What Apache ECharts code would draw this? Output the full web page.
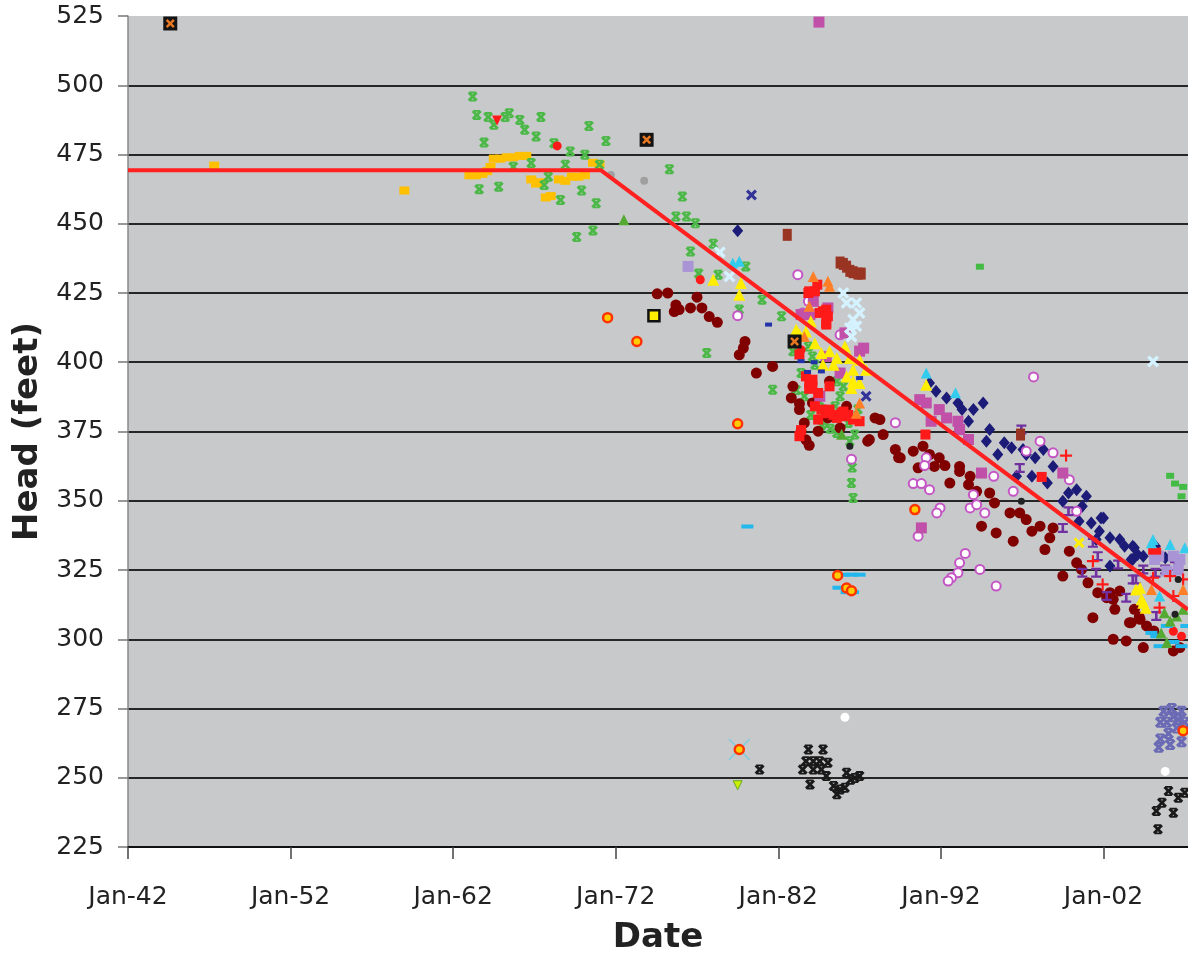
<!DOCTYPE html>
<html><head><meta charset="utf-8">
<script src="https://cdn.jsdelivr.net/npm/echarts@6/dist/echarts.min.js"></script>
<style>html,body{margin:0;padding:0;background:#fff;overflow:hidden}#c{width:1188px;height:958px}</style>
</head><body><div id="c"></div>
<script>
// ---- data: [decimal year, head (feet)] ----
const xTickYears = [1942, 1952, 1962, 1972, 1982, 1992, 2002];
const yTicks = [225, 250, 275, 300, 325, 350, 375, 400, 425, 450, 475, 500, 525];
const trendLine = [[1942, 469.3], [1971.1, 469.3], [2007.2, 310.7]];

const goldSq = [[1947.3,471],[1959.0,462],[1963.0,467.5],[1963.4,467.5],[1963.8,468],[1964.1,469],[1964.3,470.5],[1964.5,473.5],[1964.9,473.5],[1965.3,474],[1965.7,474],[1966.1,474.5],[1966.5,474.5],[1966.8,466],[1967.1,464.5],[1967.4,465],[1967.7,459.5],[1968.0,460],[1968.5,466],[1968.9,465.5],[1969.3,467],[1969.7,467],[1970.1,467.5],[1970.6,472],[1971.0,471.5]];
const greenX = [[1963.2,495.9],[1963.45,489.3],[1964.15,488.5],[1964.5,485.7],[1965.2,488.5],[1965.45,489.9],[1966.1,487.5],[1966.4,483.9],[1967.1,481.5],[1967.4,488.5],[1963.9,479.3],[1968.2,479.1],[1969.2,476.1],[1970.1,474.9],[1970.35,485.3],[1971.4,479.9],[1966.8,471.9],[1968.9,471.3],[1963.6,462.5],[1964.8,463.4],[1965.7,470.6],[1967.6,464],[1968.6,458.6],[1969.9,462],[1970.8,457.4],[1969.6,445.2],[1970.6,447.6],[1971.0,471.3],[1967.85,467],[1975.3,469.7],[1976.1,459.8],[1975.7,452.6],[1976.35,452.6],[1976.9,450.2],[1978.0,442.8],[1976.6,440],[1977.1,432],[1980.0,434.6],[1978.3,431.6],[1977.6,403.3],[1981.65,390.1],[1979.6,419],[1981.0,422.6],[1982.2,416.6],[1982.9,404],[1983.4,396.1],[1983.1,390],[1983.6,387.7],[1984.55,385.8],[1984.85,378.1],[1984.65,377.2],[1985.5,384.1],[1985.8,387.7],[1986.3,378.1],[1985.6,374.5],[1986.4,371.5],[1986.7,373.9],[1986.0,391.3],[1984.25,399.1],[1983.85,405.7],[1984.1,402.1],[1985.6,393.1],[1986.5,356.4],[1986.6,351],[1986.55,362],[1985.2,376],[1984.0,381],[1986.9,383]];
const redSq = [[1983.85,425],[1984.25,425.6],[1984.75,418.4],[1985.05,416.6],[1984.95,413.6],[1983.9,425.6],[1984.55,417.8],[1984.95,419],[1983.3,402.8],[1983.9,392.5],[1984.1,391.3],[1984.45,388.9],[1984.65,382.9],[1985.15,382.9],[1985.9,381.6],[1986.1,380.5],[1986.6,379.3],[1987.0,378.7],[1983.3,373.3],[1983.7,394.9],[1984.25,384.1],[1985.6,379.9],[1984.45,379.3],[1983.9,390.4],[1984.95,381.6],[1986.0,382.2],[1985.15,391.3],[1984.1,393.7],[1984.95,414.2],[1983.4,375.5],[1985.4,381],[1986.3,381],[1991.05,373.9],[1998.2,358.6],[1984.4,428]];
const redRect = [[2005.15,331.8]];
const redCircle = [[1968.4,478.1],[1977.2,429.8],[2006.3,302.9],[2006.8,301.1],[1983.4,404.5]];
const redTriDown = [[1964.7,487.3]];
const redPlus = [[1999.7,366.3],[2006.1,322.8],[2006.9,321.6],[2005.45,311.4],[2006.3,315.6],[2005.05,322.2],[2001.95,319.8],[2001.35,328.2]];
const maroon = [[1974.55,424.7],[1975.2,425],[1975.7,420.7],[1975.9,419],[1976.6,419.6],[1977.0,423.5],[1977.3,419.6],[1977.75,416.5],[1978.25,414.4],[1975.6,418.3],[1979.95,407.5],[1979.85,405.1],[1979.6,402.7],[1980.65,396.1],[1981.65,398.5],[1982.9,391.3],[1982.8,387.1],[1983.3,382.9],[1983.6,378.1],[1983.4,375.1],[1984.1,385.3],[1985.15,393.1],[1985.05,379.9],[1984.45,375.1],[1986.2,384.1],[1985.8,376.3],[1987.95,379.9],[1987.5,371.5],[1988.45,373.9],[1988.25,379.3],[1989.2,368.5],[1989.5,365.5],[1990.3,367.9],[1990.9,369.7],[1991.3,366.7],[1991.9,365.5],[1990.6,361.9],[1991.6,362.4],[1992.25,362.7],[1992.55,356.4],[1993.15,362.4],[1993.15,360.6],[1993.8,358.8],[1993.7,355.8],[1994.2,353.4],[1994.5,340.8],[1995.3,349.2],[1995.0,352.8],[1995.4,338.4],[1996.25,345.6],[1996.45,335.4],[1996.85,345.6],[1997.25,343.2],[1997.6,339],[1998.1,340.8],[1998.4,332.4],[1998.7,336.6],[1998.9,340.2],[1999.5,322.8],[1999.9,331.8],[2000.35,327.6],[2000.65,325.2],[2001.05,320.4],[2001.65,316.8],[2001.35,307.8],[2002.4,316.8],[2002.6,314.4],[2002.6,300],[2003.4,299.4],[2003.6,306],[2003.9,310.8],[2004.25,307.2],[2004.45,297],[2004.65,304.8],[2006.3,295.8],[2002.2,315],[2002.7,310.8],[2003.0,317.4],[2003.7,306],[2004.2,308],[2005.1,303],[2006.7,297],[1983.3,385],[1983.9,370],[1983.7,372],[1987.6,372.1],[1989.4,365.6]];
const navyDiamond = [[1979.5,447.5],[1991.3,392.5],[1991.7,389.5],[1992.35,387.1],[1993.05,385.3],[1993.3,382.9],[1994.0,382.9],[1993.7,378.7],[1994.6,385.3],[1995.0,375.7],[1994.8,371.5],[1995.9,370.9],[1996.35,369.1],[1995.5,366.7],[1997.05,368.5],[1997.25,366.7],[1997.8,365.5],[1998.3,368.5],[1996.65,358.8],[1997.6,358.8],[1998.55,356.4],[1998.9,362.4],[1999.85,352.8],[2000.35,354],[2000.95,351.6],[1999.5,349.8],[2000.7,348],[2000.5,342.6],[2001.25,342],[2001.85,343.8],[2001.75,339],[2002.4,336.6],[2003.0,336],[2003.3,333.6],[2003.9,333],[2004.1,330.6],[2003.8,328.8],[2004.45,330],[2002.4,326.4],[2001.55,336],[2002.0,343.8],[2003.8,333.6],[2003.7,328.8],[2005.2,333.6],[2005.8,329.4]];
const magentaSq = [[1984.5,522.8],[1991.1,385.3],[1991.9,382.9],[1992.35,379.9],[1993.05,378.7],[1993.15,375.7],[1993.7,372.1],[1991.4,378.7],[1994.5,360],[1999.5,360],[1990.7,386.5],[1984.15,422],[1983.95,417.2],[1983.4,417.2],[1985.05,419.6],[1986.1,410.6],[1987.0,404],[1987.25,405.1],[1985.8,396.1],[1984.95,402.1],[1984.55,387.7],[1990.8,340.2]];
const orchidRing = [[1989.2,378.2],[1990.3,356.2],[1990.8,356.2],[1991.3,354],[1991.1,365.5],[1991.0,362.7],[1991.95,347.4],[1991.75,345.6],[1990.6,337.2],[1993.8,347.4],[1994.2,348.6],[1994.7,345.6],[1994.0,352.2],[1996.45,353.4],[1993.5,331],[1993.15,327.6],[1993.05,324],[1992.65,322.2],[1992.45,321],[1994.4,325.2],[1995.4,319.2],[1997.7,394.7],[1998.1,371.5],[1998.9,367.3],[1999.9,357.6],[2000.35,346.2],[1997.25,367.9],[1995.25,358.8],[1979.5,416.8],[1983.2,431.6],[1983.85,422],[1985.8,409.9],[1983.5,417.8],[1986.5,365]];
const purpleI = [[1996.95,375.7],[1996.85,361.8],[1999.85,346.2],[1999.5,340.2],[2001.35,334.8],[2001.65,330],[2000.7,324],[2001.55,324],[2002.2,315.6],[2003.4,315],[2004.0,321.6],[2004.45,325.2],[2005.2,324],[2005.8,325.2],[2006.4,326.4],[2003.8,321.6],[2005.25,308.4],[2002.9,327]];
const lavenderSq = [[1976.45,434.6],[2005.4,330],[2006.7,328.8],[2006.3,330],[2005.9,324.6],[2005.15,328.8],[2006.6,325]];
const cyanTri = [[1991.1,396.1],[1992.9,389.0],[2005.05,336],[2006.1,334.2],[2007.0,333],[2004.95,334.8],[2005.45,315.6],[1979.2,435.8],[1979.6,436.5]];
const yellowTri = [[1984.0,414.8],[1983.7,411.1],[1983.3,410],[1984.25,406.9],[1984.65,403.3],[1985.15,404],[1985.6,401.5],[1986.1,405.7],[1986.4,401.5],[1986.6,397.3],[1986.2,394.9],[1986.6,393.1],[1987.0,400.9],[1987.4,397.3],[1987.0,392.5],[1986.5,390.7],[1985.4,399.1],[1984.75,399.1],[1983.1,411.8],[1991.1,391.9],[1978.0,429.8],[1979.7,428.6],[1979.6,424.4],[2004.25,318.6],[2004.45,313.2],[2004.6,311.4],[2004.0,318],[2004.35,314.4]];
const yellowX = [[2000.5,334.8]];
const paleX = [[1986.0,425],[1986.2,421.4],[1986.8,421.4],[1987.0,417.8],[1986.6,415.4],[1986.4,412.4],[1986.8,413],[1986.5,409.3],[1978.4,439.7],[2005.05,400.3],[1979.0,431]];
const orangeTri = [[1984.15,431],[1985.05,429.2],[1985.15,427.4],[1983.9,420.2],[1987.0,385.3],[1986.8,381.6],[1983.6,409.3],[2004.95,318],[2006.9,318]];
const orangeRing = [[1971.5,416.1],[1973.3,407.5],[1979.5,377.8],[1985.65,323],[1986.2,318.5],[1986.5,317.5],[2006.9,267],[1990.4,346.8],[1979.6,260.2]];
const cyanDash = [[1980.1,340.7],[1986.0,323.3],[1986.5,323.3],[1987.0,323.3],[1985.7,318.6],[1986.2,317],[1986.6,317],[2005.25,301.1],[2005.9,304.8],[2006.8,297.5],[2005.45,297.5],[2004.95,302.3],[2007.1,304.8],[2006.3,299]];
const blackX = [[1980.85,253],[1983.85,260.2],[1984.75,260.2],[1983.7,256],[1984.15,256],[1984.55,256],[1983.5,253],[1984.15,253],[1984.65,253],[1985.05,255.4],[1983.95,247.6],[1984.95,250.6],[1985.4,247],[1985.6,244],[1985.8,245.8],[1986.2,251.8],[1986.45,249.3],[1986.7,249.9],[1987.0,250.6],[1986.1,246.4],[2006.0,245.2],[2006.6,242.8],[2005.25,238],[2006.3,237.4],[2005.35,231.4],[2007.0,244.6],[2005.6,241]];
const slateX = [[2005.5,270],[2005.5,264],[2005.7,274],[2006.0,266],[2006.1,262],[2006.3,272],[2006.5,268],[2006.8,274],[2006.8,263],[2007.0,270],[2005.4,261],[2006.2,275],[2005.9,270],[2006.6,271]];
const blueX = [[1980.35,460.4],[1987.4,387.7]];
const navySmall = [[1983.4,400.4],[1984.65,396.7],[1981.4,413.6],[1987.0,394.3],[1983.8,396.5],[1984.2,400]];
const whiteDot = [[1986.1,271.8],[2005.8,252.3]];
const grayDot = [[1971.7,467.6],[1973.75,465.5]];
const framedOrangeX = [[1944.6,522.3],[1973.9,480.3],[1983.0,407.5]];
const framedYellow = [[1974.35,416.8]];
const brownSq = [[1982.55,446],[1985.8,436],[1986.0,435.5],[1986.2,434.5],[1986.4,433],[1986.6,432.5],[1986.9,432],[1987.1,432],[1996.9,373.9]];
const greenSq = [[1994.4,434.5],[2006.1,359],[2006.4,356.2],[2006.9,355],[2006.8,351.6]];
const greenTri = [[1972.5,451.4],[2005.55,302.3],[2005.75,309.6],[2006.1,306.6],[2005.9,298.8],[2006.5,308.4],[2006.9,310.8],[1985.9,374]];
const bigCyanX = [[1979.6,260.2]];
const yellowGreenTri = [[1979.5,247.3]];
const blackDot = [[1996.95,349.8],[2006.4,309],[2006.6,321.6],[1986.4,369.7]];

// ---- rendering ----
const X0 = 1942, XMAX = 2007.2;
const toXY = arr => arr.map(p => [p[0] - X0, p[1]]);
const STAR = 'path://M0,2 L2,0 L5,3 L8,0 L10,2 L7,5 L10,8 L8,10 L5,7 L2,10 L0,8 L3,5 Z M1.5,0 H8.5 V1.8 H1.5 Z M1.5,8.2 H8.5 V10 H1.5 Z';
const XS = 'path://M0,2 L2,0 L5,3 L8,0 L10,2 L7,5 L10,8 L8,10 L5,7 L2,10 L0,8 L3,5 Z';
const THINX = 'path://M0,0.6 L0.6,0 L5,4.4 L9.4,0 L10,0.6 L5.6,5 L10,9.4 L9.4,10 L5,5.6 L0.6,10 L0,9.4 L4.4,5 Z';
const PLUS = 'path://M4.1,0 H5.9 V4.1 H10 V5.9 H5.9 V10 H4.1 V5.9 H0 V4.1 H4.1 Z';
const IBEAM = 'path://M0,0 H10 V2.2 H6.3 V7.8 H10 V10 H0 V7.8 H3.7 V2.2 H0 Z';

function sc(data, symbol, size, color, extra) {
  return {
    type: 'scatter', data: toXY(data), symbol: symbol, symbolSize: size,
    itemStyle: Object.assign({ color: color, opacity: 1 }, (extra && extra.item) || {}),
    emphasis: { disabled: true }, silent: true,
    symbolRotate: (extra && extra.rot) || 0
  };
}

const series = [
  sc(goldSq, 'rect', [10, 8], '#ffc000'),
  sc(greenX, STAR, 10, '#4cb848'),
  sc(maroon, 'circle', 11, '#800000'),
  sc(navyDiamond, 'diamond', [11, 13], '#1c1c78'),
  sc(orchidRing, 'emptyCircle', 9, '#c455c4', { item: { borderColor: '#c455c4', borderWidth: 2.5 } }),
  sc(magentaSq, 'rect', 11, '#c050a8'),
  sc(purpleI, IBEAM, 10, '#7030a0'),
  sc(lavenderSq, 'rect', 11, '#a994d6'),
  sc(redSq, 'rect', 10, '#ff1a1a'),
  sc(redRect, 'rect', [13, 7], '#ff1a1a'),
  sc(redCircle, 'circle', 9, '#ff1a1a'),
  sc(redTriDown, 'triangle', 10, '#ff1a1a', { rot: 180 }),
  sc(redPlus, PLUS, 12, '#ff1a1a'),
  sc(yellowTri, 'triangle', 12, '#ffee00'),
  sc(orangeTri, 'triangle', 11, '#ff7f27'),
  sc(cyanTri, 'triangle', 11, '#33ccee'),
  sc(paleX, XS, 12, '#d4f2ff'),
  sc(yellowX, XS, 11, '#ffee00'),
  sc(cyanDash, 'rect', [12, 4], '#22b8ee'),
  sc(blackX, STAR, 10, '#1a1a1a'),
  sc(slateX, STAR, 11, '#6b6bb5'),
  sc(blueX, XS, 11, '#333399'),
  sc(navySmall, 'rect', [7, 4], '#2233aa'),
  sc(whiteDot, 'circle', 9, '#ffffff'),
  sc(grayDot, 'circle', 8, '#a0a0a0'),
  sc(brownSq, 'rect', [9, 12], '#993322'),
  sc(greenSq, 'rect', [8, 6], '#44bb44'),
  sc(greenTri, 'triangle', 11, '#55aa33'),
  sc(bigCyanX, THINX, 22, '#88ccdd'),
  sc(orangeRing, 'circle', 9, '#ffcc00', { item: { borderColor: '#ff3300', borderWidth: 2.5 } }),
  sc(yellowGreenTri, 'triangle', 9, '#ccee00', { rot: 180, item: { borderColor: '#66aa22', borderWidth: 1 } }),
  sc(blackDot, 'circle', 7, '#222222'),
  sc(framedOrangeX, 'rect', 14, '#141414'),
  sc(framedOrangeX, XS, 9, '#e87722'),
  sc(framedYellow, 'rect', 11, '#ffee00', { item: { borderColor: '#111', borderWidth: 2.5 } }),
  {
    type: 'line', data: toXY(trendLine), symbol: 'none', z: 10, silent: true,
    lineStyle: { color: '#ff2020', width: 4 }
  }
];

const chart = echarts.init(document.getElementById('c'), null, { renderer: 'canvas' });
chart.setOption({
  animation: false,
  backgroundColor: '#ffffff',
  grid: { left: 128, right: 0, top: 16, bottom: 111, outerBoundsMode: 'none', containLabel: false,
          show: true, backgroundColor: '#c8c9cb', borderWidth: 0 },
  xAxis: {
    type: 'value', min: 0, max: XMAX - X0, interval: 10,
    name: 'Date', nameLocation: 'middle', nameGap: 74,
    nameTextStyle: { fontFamily: 'DejaVu Sans', fontWeight: 'bold', fontSize: 34, color: '#222' },
    axisLine: { show: true, onZero: false, lineStyle: { color: '#111', width: 2 } },
    axisTick: { show: true, length: 12, lineStyle: { color: '#444', width: 1.5 } },
    axisLabel: {
      margin: 38, fontFamily: 'DejaVu Sans', fontSize: 25, color: '#222', showMaxLabel: false,
      formatter: v => { const y = X0 + Math.round(v); return xTickYears.indexOf(y) >= 0 ? 'Jan-' + String(y).slice(2) : ''; }
    },
    splitLine: { show: false }
  },
  yAxis: {
    type: 'value', min: yTicks[0], max: yTicks[yTicks.length - 1], interval: 25,
    name: 'Head (feet)', nameLocation: 'middle', nameGap: 79, nameRotate: 90,
    nameTextStyle: { fontFamily: 'DejaVu Sans', fontWeight: 'bold', fontSize: 34, color: '#222' },
    axisLine: { show: true, lineStyle: { color: '#888', width: 1.5 } },
    axisTick: { show: true, length: 10, lineStyle: { color: '#777', width: 1.5 } },
    axisLabel: { margin: 24, fontFamily: 'DejaVu Sans', fontSize: 25, color: '#222' },
    splitLine: { show: true, showMaxLine: false, lineStyle: { color: '#262626', width: 1.8 } }
  },
  series: series
});
</script>
</body></html>
